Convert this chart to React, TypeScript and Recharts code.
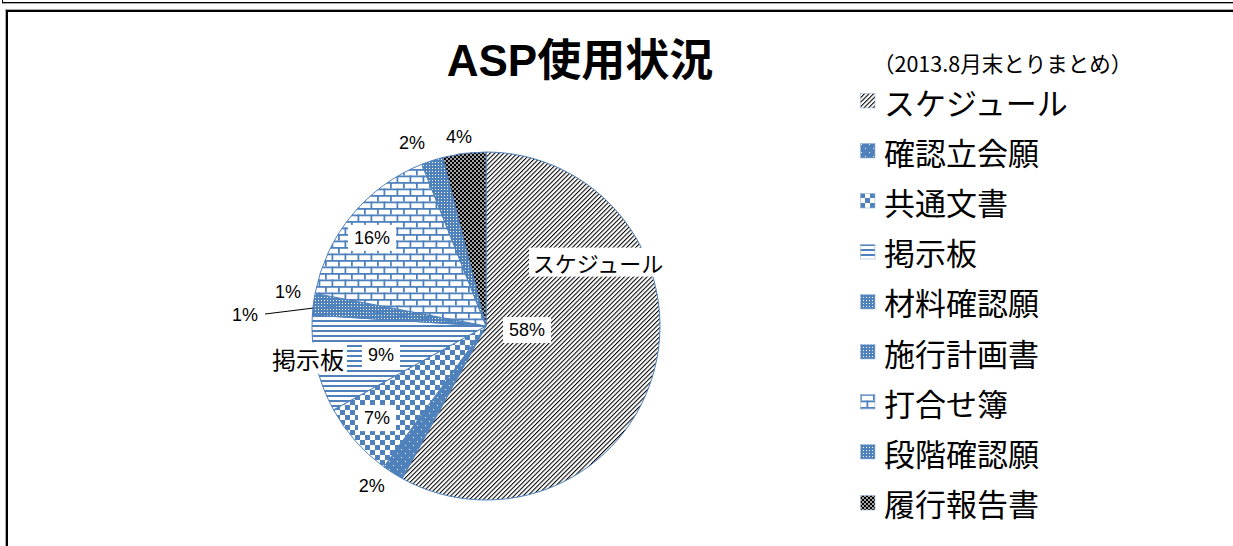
import { Cell, Legend, Pie, PieChart } from "recharts";

const BLUE = "#4F81BD";

// ASP 使用状況（2013.8月末とりまとめ）
const categories = [
	"スケジュール",
	"確認立会願",
	"共通文書",
	"掲示板",
	"材料確認願",
	"施行計画書",
	"打合せ簿",
	"段階確認願",
	"履行報告書",
];
const shares = [58, 2, 7, 9, 1, 1, 16, 2, 4];
const patternIds = [
	"pat-hatch",
	"pat-bluedots",
	"pat-checker",
	"pat-hstripe",
	"pat-grid1",
	"pat-grid2",
	"pat-brick",
	"pat-grid3",
	"pat-blackcheck",
];

const rows = categories.map((name, i) => ({ name, value: shares[i] }));

// ラベル位置 [半径比, 角度(度)]
const pctSpots: [number, number][] = [
	[0.237, -5.6],
	[1.13, -125.5],
	[0.82, -139.8],
	[0.626, -164.6],
	[1.387, -182.6],
	[1.155, -189.7],
	[0.828, -217.7],
	[1.134, -248],
	[1.097, -261.9],
];
const boxed = [true, false, true, true, false, false, true, false, false];
// 分類名ラベル [半径比, 角度, 文字サイズ]
const nameSpots: Record<number, [number, number, number]> = {
	0: [0.741, 29.7, 22],
	3: [1.04, -169.8, 24],
};

const RADIAN = Math.PI / 180;
const polar = (cx: number, cy: number, r: number, deg: number) => ({
	x: cx + r * Math.cos(-deg * RADIAN),
	y: cy + r * Math.sin(-deg * RADIAN),
});

const JP = '"Noto Sans CJK JP", "Noto Sans", sans-serif';
const LAT = '"Liberation Sans", Arial, sans-serif';

function renderLabel(props: any) {
	const { cx, cy, outerRadius, index, percent } = props;
	const [rr, deg] = pctSpots[index];
	const p = polar(cx, cy, outerRadius * rr, deg);
	const text = `${Math.round(percent * 100)}%`;
	const fs = 18;
	const w = fs * (0.556 * (text.length - 1) + 0.889) + 12;
	const h = 26;
	const name = nameSpots[index];
	let nameEl = null;
	if (name) {
		const q = polar(cx, cy, outerRadius * name[0], name[1]);
		const label = categories[index];
		const nw = name[2] * label.length + 6;
		const nh = name[2] + 7;
		nameEl = (
			<g>
				<rect x={q.x - nw / 2} y={q.y - nh / 2} width={nw} height={nh} fill="#fff" />
				<text
					x={q.x}
					y={q.y}
					textAnchor="middle"
					dominantBaseline="central"
					fontSize={name[2]}
					fontFamily={JP}
					fill="#000"
				>
					{label}
				</text>
			</g>
		);
	}
	let leader = null;
	if (index === 4) {
		const a = polar(cx, cy, outerRadius * 1.272, -183.1);
		const b = polar(cx, cy, outerRadius * 1.0, -185.9);
		leader = <line x1={a.x} y1={a.y} x2={b.x} y2={b.y} stroke="#000" strokeWidth={1} />;
	}
	return (
		<g>
			{leader}
			{boxed[index] && (
				<rect x={p.x - w / 2} y={p.y - h / 2} width={w} height={h} fill="#fff" />
			)}
			<text
				x={p.x}
				y={p.y}
				textAnchor="middle"
				dominantBaseline="central"
				fontSize={fs}
				fontFamily={LAT}
				fill="#000"
			>
				{text}
			</text>
			{nameEl}
		</g>
	);
}

function PatternDefs() {
	return (
		<svg width={0} height={0} style={{ position: "absolute" }}>
			<defs>
				<pattern id="pat-hatch" width="3.2" height="3.2" patternUnits="userSpaceOnUse" patternTransform="rotate(45)">
					<rect width="3.2" height="3.2" fill="#fff" />
					<rect width="1.05" height="3.2" fill="#000" />
				</pattern>
				<pattern id="pat-bluedots" width="8" height="8" patternUnits="userSpaceOnUse">
					<rect width="8" height="8" fill={BLUE} />
					<rect x="1" y="1" width="1" height="1" fill="#fff" />
					<rect x="5" y="5" width="1" height="1" fill="#fff" />
				</pattern>
				<pattern id="pat-checker" width="10" height="10" patternUnits="userSpaceOnUse">
					<rect width="10" height="10" fill="#fff" />
					<rect width="5" height="5" fill={BLUE} />
					<rect x="5" y="5" width="5" height="5" fill={BLUE} />
				</pattern>
				<pattern id="pat-hstripe" width="5" height="5" patternUnits="userSpaceOnUse">
					<rect width="5" height="5" fill="#fff" />
					<rect width="5" height="2" fill={BLUE} />
				</pattern>
				{["pat-grid1", "pat-grid2", "pat-grid3"].map((id) => (
					<pattern key={id} id={id} width="3" height="3" patternUnits="userSpaceOnUse">
						<rect width="3" height="3" fill={BLUE} />
						<rect width="1" height="1" fill="#fff" />
					</pattern>
				))}
				<pattern id="pat-brick" width="13" height="13" patternUnits="userSpaceOnUse">
					<rect width="13" height="13" fill="#fff" />
					<rect width="13" height="1.8" fill={BLUE} />
					<rect y="6.5" width="13" height="1.8" fill={BLUE} />
					<rect width="1.8" height="6.5" fill={BLUE} />
					<rect x="6.5" y="6.5" width="1.8" height="6.5" fill={BLUE} />
				</pattern>
				<pattern id="pat-blackcheck" width="4" height="4" patternUnits="userSpaceOnUse">
					<rect width="4" height="4" fill="#000" />
					<rect x="0.2" y="0.2" width="1.6" height="1.6" fill="#fff" />
					<rect x="2.2" y="2.2" width="1.6" height="1.6" fill="#fff" />
				</pattern>
			</defs>
		</svg>
	);
}

// 凡例は系列順（categories の順）で並べる
function LegendList() {
	return (
		<div>
			{categories.map((name, i) => (
				<div
					key={name}
					style={{ height: 50.2, display: "flex", alignItems: "center" }}
				>
					<svg width={16} height={16} style={{ flexShrink: 0 }}>
						<rect x={0.5} y={0.5} width={14.5} height={14.5} fill={`url(#${patternIds[i]})`} stroke="#9BB5D8" strokeWidth={0.6} />
					</svg>
					<span
						style={{
							marginLeft: 8,
							fontSize: 31,
							fontFamily: JP,
							color: "#000",
							lineHeight: 1,
							whiteSpace: "nowrap",
						}}
					>
						{name}
					</span>
				</div>
			))}
		</div>
	);
}

export default function App() {
	return (
		<div
			style={{
				position: "fixed",
				left: 0,
				top: 0,
				width: 1233,
				height: 546,
				background: "#fff",
				overflow: "hidden",
			}}
		>
			<PatternDefs />
			{/* 上の枠の下端 */}
			<div style={{ position: "absolute", left: 2, top: -20, width: 1300, height: 22, borderLeft: "1px solid #000", borderBottom: "1px solid #000", boxShadow: "0 1px 0 #aaa" }} />
			{/* グラフ枠 */}
			<div style={{ position: "absolute", left: 6, top: 10, width: 1300, height: 600, borderLeft: "2px solid #000", borderTop: "2px solid #000", boxShadow: "-1px -1px 0 #aaa" }} />
			<div
				style={{
					position: "absolute",
					left: 380,
					width: 400,
					top: 39,
					textAlign: "center",
					fontSize: 44,
					fontWeight: "bold",
					fontFamily: `"Liberation Sans", ${JP}`,
					lineHeight: 1,
					color: "#000",
				}}
			>
				ASP使用状況
			</div>
			<div
				style={{
					position: "absolute",
					left: 873,
					top: 52,
					fontSize: 21.5,
					fontFamily: JP,
					lineHeight: 1,
					whiteSpace: "nowrap",
					color: "#000",
				}}
			>
				（2013.8月末とりまとめ）
			</div>
			<div style={{ position: "absolute", left: 0, top: 0 }}>
				<PieChart width={1233} height={546} margin={{ top: 0, right: 0, bottom: 0, left: 0 }}>
					<Pie
						data={rows}
						dataKey="value"
						nameKey="name"
						cx={486}
						cy={326}
						outerRadius={174}
						startAngle={90}
						endAngle={-270}
						stroke={BLUE}
						strokeWidth={1}
						label={renderLabel}
						labelLine={false}
						isAnimationActive={false}
					>
						{rows.map((row, i) => (
							<Cell key={row.name} fill={`url(#${patternIds[i]})`} />
						))}
					</Pie>
					<Legend
						layout="vertical"
						align="center"
						verticalAlign="middle"
						wrapperStyle={{ left: 860, top: 76, width: 320 }}
						content={<LegendList />}
					/>
				</PieChart>
			</div>
		</div>
	);
}
